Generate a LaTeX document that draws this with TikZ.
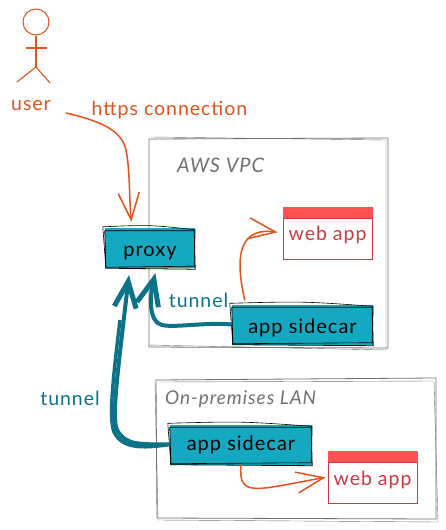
\documentclass[tikz,border=0pt]{standalone}
\usepackage{fontspec}
\setmainfont{Lato}[LetterSpace=5]
\usetikzlibrary{arrows.meta,calc}
\definecolor{hand}{HTML}{E0531C}
\definecolor{tealfill}{HTML}{15A9C1}
\definecolor{tealdark}{HTML}{0B7288}
\definecolor{redline}{HTML}{D1373F}
\definecolor{redfill}{HTML}{FF5252}
\definecolor{zonegray}{HTML}{707070}
\tikzset{
	lbl/.style={inner sep=0pt, font=\fontsize{19.5}{22}\selectfont},
	service/.style={inner sep=0pt, fill=tealfill, minimum height=40pt, font=\fontsize{20}{22}\selectfont, text=black},
	app/.style={inner sep=0pt, draw=redline, line width=1pt, minimum width=89pt, minimum height=52pt},
	zone/.style={draw=zonegray, line width=0.8pt},
	plain/.style={hand, line width=1.5pt, -{Straight Barb[length=27pt,width=21pt,line width=1.5pt]}},
	tube/.style={tealdark, line width=4pt, -{Straight Barb[length=26pt,width=22pt,line width=5pt]}}
}
% second pen stroke round a box
\newcommand{\scribble}[1]{
	\draw [line width=0.8pt, black] ($(#1.north west)+(0,3)$) -- ($(#1.north east)+(-1,3)$) -- ($(#1.south east)+(0,1)$) -- ($(#1.south west)+(1,0)$) -- cycle;
	\draw [line width=0.6pt, black] ($(#1.north west)+(-2,-1)$) .. controls ($(#1.north)+(0,-3)$) .. ($(#1.north east)+(0,2)$) -- ($(#1.south east)+(-1,-2)$) -- ($(#1.south west)+(1,-1)$) -- cycle;
}
\begin{document}
\begin{tikzpicture}[x=1pt, y=-1pt]
	\useasboundingbox (0,0) rectangle (446,530);
	% zones
	\draw [zone] (149,139) -- (388,138) -- (388,348) -- (149,347) -- cycle;
	\draw [zone, line width=0.4pt] (151,137) -- (386,140) -- (386,350) -- (148,345);
	\draw [zone] (156,380) -- (436,378) -- (436,519) -- (157,518) -- cycle;
	\draw [zone, line width=0.4pt] (159,382) -- (434,381) -- (438,522) -- (158,520) -- (155,382);
	\node [lbl, text=zonegray, anchor=west, font=\fontsize{20}{22}\selectfont\itshape] (vpc) at (177,165) {AWS VPC};
	\node [lbl, text=zonegray, anchor=west, font=\fontsize{19}{22}\selectfont\itshape] (lan) at (165,399) {On-premises LAN};
	% user
	\node [circle, draw=hand, line width=1pt, minimum size=26pt, inner sep=0pt] (head) at (36,22) {};
	\coordinate (hip) at (36,67);
	\draw [hand, line width=1.1pt] (head.south) -- (hip);
	\draw [hand, line width=1.1pt] (26,48) -- (47,48);
	\draw [hand, line width=1.1pt] (17,82) -- (hip) -- (50,83);
	\node [lbl, text=hand] (user) at (31,106) {user};
	\node [lbl, text=hand] (https) at (169.5,110) {https connection};
	% boxes
	\node [service, minimum width=90pt, text height=16pt, text depth=0pt] (proxy) at (150,248) {proxy};
	\node [service, minimum width=141pt, text height=17pt, text depth=0pt] (sidecara) at (302.5,324.5) {app sidecar};
	\node [service, minimum width=142pt] (sidecarb) at (241,444.5) {app sidecar};
	\scribble{proxy}
	\scribble{sidecara}
	\scribble{sidecarb}
	\node [app] (weba) at (327.5,233) {};
	\fill [redfill] (weba.north west) rectangle ($(weba.north east)+(0,11)$);
	\draw [redline, line width=1pt] ($(weba.north west)+(0,12)$) -- ($(weba.north east)+(0,12)$);
	\node [lbl, text=redline] (webatext) at (327.5,235) {web app};
	\node [app] (webb) at (372.5,477) {};
	\fill [redfill] (webb.north west) rectangle ($(webb.north east)+(0,11)$);
	\draw [redline, line width=1pt] ($(webb.north west)+(0,12)$) -- ($(webb.north east)+(0,12)$);
	\node [lbl, text=redline] (webbtext) at (372.5,480) {web app};
	% connectors
	\coordinate (userout) at (66,113);
	\draw [plain, shorten >=6pt] (userout) .. controls (105,122) and (122,132) .. (126,150) .. controls (130,170) and (129,195) .. (proxy.132);
	\coordinate [shift={(13,-4)}] (sidea) at (sidecara.north west);
	\draw [plain, shorten >=5pt] (sidea) .. controls (238,270) and (232,226) .. (weba.west);
	\draw [plain, shorten >=2pt] (sidecarb.south) .. controls (238,498) and (255,490) .. (webb.west);
	\draw [tube, shorten >=5pt] (sidecara.west) .. controls (205,322) and (175,328) .. (162,325) .. controls (148,322) and (150,295) .. (proxy.-72);
	\draw [tealdark, line width=3.4pt] (sidecarb.west) .. controls (140,449) and (122,448) .. (114,432) .. controls (109,420) and (112,385) .. (120,320);
	\draw [tube, shorten >=7pt] (sidecarb.west) .. controls (140,444) and (126,446) .. (117,430) .. controls (112,418) and (116,385) .. (proxy.-135);
	\node [lbl, text=tealdark] (tunnela) at (198.5,300) {tunnel};
	\node [lbl, text=tealdark] (tunnelb) at (70,398) {tunnel};
\end{tikzpicture}
\end{document}
